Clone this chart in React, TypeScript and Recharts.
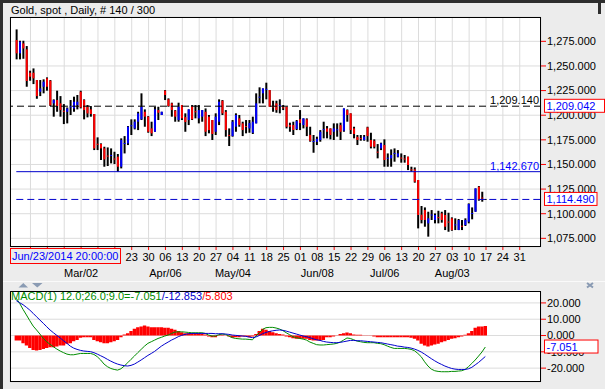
import React from 'react';
import { ComposedChart, Bar, Line, XAxis, YAxis, CartesianGrid, ReferenceLine } from 'recharts';

const FONT = '"Liberation Sans", Arial, sans-serif';
const BG = '#ececec';
const RED = '#ff0000';
const BLUE = '#0000ff';
const DARK_BLUE = '#0000cc';
const GREEN = '#008c00';
const GRID = '#dcdcdc';

// daily bars, oldest first
const opens = [
  1276.3, 1262.8, 1272.9, 1266.8, 1243.1, 1243.1, 1235.7, 1223.8, 1228.9, 1237.4,
  1235.0, 1212.0, 1215.4, 1212.0, 1204.5, 1203.5, 1208.0, 1206.9, 1210.3, 1223.8,
  1215.4, 1208.6, 1205.9, 1201.2, 1171.0, 1170.7, 1166.3, 1159.0, 1158.8, 1156.0,
  1157.9, 1147.7, 1171.0, 1171.4, 1189.0, 1186.6, 1193.4, 1195.8, 1203.5, 1198.5,
  1186.6, 1183.2, 1205.2, 1200.2, 1224.9, 1216.1, 1212.0, 1204.6, 1195.1, 1210.3,
  1198.0, 1195.1, 1208.6, 1204.0, 1196.8, 1198.5, 1203.5, 1198.5, 1195.1, 1183.2,
  1193.4, 1214.7, 1203.5, 1180.0, 1178.8, 1188.3, 1196.8, 1191.7, 1189.0, 1186.6,
  1182.2, 1191.7, 1218.0, 1222.2, 1226.0, 1225.5, 1209.0, 1212.0, 1209.5, 1208.0,
  1208.6, 1190.0, 1190.0, 1186.0, 1196.0, 1190.0, 1195.8, 1180.0, 1173.0, 1173.0,
  1174.8, 1185.0, 1186.6, 1186.6, 1183.2, 1185.0, 1190.0, 1184.3, 1205.2, 1201.9,
  1186.6, 1178.0, 1176.8, 1174.8, 1187.6, 1174.8, 1174.1, 1163.0, 1166.3, 1169.7,
  1156.0, 1156.2, 1161.0, 1157.9, 1157.0, 1156.0, 1157.9, 1145.0, 1145.0, 1134.2,
  1099.0, 1103.7, 1090.2, 1098.5, 1093.6, 1096.5, 1100.3, 1098.7, 1092.0, 1095.3,
  1088.5, 1083.4, 1087.8, 1088.5, 1091.9, 1100.0, 1102.0, 1127.4, 1116.4, 1114.49,
];
const highs = [
  1287.1, 1275.6, 1275.6, 1270.2, 1245.2, 1247.5, 1235.7, 1235.7, 1236.4, 1238.4,
  1235.7, 1216.1, 1224.9, 1219.4, 1211.3, 1207.9, 1215.4, 1218.8, 1220.5, 1224.9,
  1216.1, 1210.3, 1209.3, 1201.2, 1177.5, 1171.4, 1168.0, 1167.3, 1166.3, 1162.9,
  1160.6, 1176.5, 1178.8, 1189.0, 1195.8, 1195.8, 1203.5, 1222.2, 1205.9, 1199.1,
  1193.4, 1208.6, 1208.6, 1203.5, 1225.5, 1217.1, 1212.7, 1205.2, 1212.7, 1210.3,
  1201.9, 1206.0, 1210.3, 1210.3, 1210.3, 1205.2, 1206.9, 1200.2, 1195.1, 1201.9,
  1216.1, 1215.4, 1205.2, 1186.6, 1195.1, 1201.9, 1200.2, 1193.4, 1195.1, 1195.1,
  1198.5, 1222.2, 1228.3, 1227.2, 1233.0, 1225.5, 1214.7, 1214.7, 1216.1, 1210.3,
  1208.6, 1192.4, 1193.4, 1195.1, 1205.2, 1196.8, 1196.8, 1188.3, 1179.9, 1178.2,
  1184.9, 1193.4, 1189.0, 1186.6, 1191.7, 1191.7, 1192.4, 1206.9, 1205.9, 1201.9,
  1188.3, 1179.9, 1179.9, 1179.9, 1188.3, 1182.2, 1175.5, 1170.7, 1172.1, 1175.5,
  1161.2, 1165.3, 1166.3, 1164.6, 1161.2, 1159.6, 1157.9, 1147.7, 1147.0, 1134.2,
  1107.8, 1106.4, 1102.0, 1103.7, 1100.3, 1103.0, 1102.0, 1103.7, 1101.0, 1096.3,
  1095.3, 1094.6, 1093.6, 1095.3, 1110.5, 1106.4, 1125.7, 1128.1, 1122.3, 1115.0,
];
const lows = [
  1256.7, 1256.7, 1257.3, 1228.9, 1235.0, 1231.6, 1216.7, 1219.4, 1222.2, 1224.9,
  1209.3, 1198.5, 1203.5, 1198.5, 1191.0, 1191.7, 1200.2, 1203.5, 1205.9, 1206.9,
  1195.8, 1197.8, 1198.5, 1164.6, 1164.6, 1154.5, 1147.7, 1148.4, 1151.1, 1150.4,
  1142.6, 1146.0, 1161.2, 1169.7, 1179.9, 1185.6, 1184.9, 1195.1, 1188.3, 1182.2,
  1178.8, 1183.2, 1195.1, 1200.2, 1215.4, 1208.6, 1198.5, 1193.4, 1193.4, 1195.1,
  1183.2, 1190.0, 1195.1, 1196.8, 1191.7, 1193.4, 1178.8, 1181.6, 1174.8, 1179.9,
  1190.0, 1200.2, 1178.2, 1168.7, 1178.2, 1183.2, 1188.3, 1178.8, 1181.6, 1182.2,
  1180.9, 1191.7, 1212.0, 1212.0, 1216.1, 1208.6, 1203.5, 1202.5, 1201.9, 1205.2,
  1186.6, 1183.2, 1179.9, 1184.9, 1184.9, 1186.6, 1178.8, 1173.1, 1161.9, 1169.7,
  1173.1, 1176.5, 1176.5, 1175.5, 1174.8, 1178.2, 1174.8, 1183.2, 1193.4, 1180.9,
  1176.5, 1169.7, 1174.1, 1174.1, 1173.1, 1166.3, 1166.3, 1156.2, 1164.6, 1147.7,
  1147.7, 1147.7, 1152.8, 1157.2, 1151.8, 1151.8, 1144.3, 1142.6, 1131.5, 1085.1,
  1090.2, 1086.8, 1076.7, 1093.6, 1090.2, 1090.2, 1090.9, 1083.4, 1081.7, 1082.7,
  1083.4, 1083.4, 1083.4, 1087.5, 1090.2, 1094.3, 1102.0, 1113.2, 1112.2, 1114.0,
];
const closes = [
  1262.8, 1274.6, 1267.8, 1234.7, 1239.1, 1237.4, 1219.4, 1227.2, 1234.0, 1228.9,
  1210.0, 1215.4, 1209.3, 1205.2, 1203.7, 1206.9, 1209.0, 1213.7, 1213.7, 1207.9,
  1205.2, 1201.8, 1201.2, 1166.3, 1170.2, 1166.3, 1155.1, 1158.2, 1159.6, 1155.0,
  1147.7, 1174.8, 1171.8, 1188.3, 1189.8, 1193.4, 1201.9, 1208.6, 1198.5, 1183.2,
  1181.6, 1205.9, 1202.5, 1203.5, 1220.5, 1209.3, 1205.2, 1198.5, 1208.6, 1196.8,
  1193.0, 1205.9, 1195.8, 1203.2, 1205.2, 1205.2, 1183.2, 1184.9, 1180.9, 1198.5,
  1213.7, 1201.9, 1184.9, 1179.2, 1193.4, 1200.2, 1190.0, 1184.9, 1188.2, 1192.0,
  1193.4, 1212.0, 1218.8, 1227.2, 1226.8, 1208.6, 1208.2, 1205.2, 1210.2, 1207.3,
  1188.3, 1188.3, 1185.0, 1194.0, 1192.0, 1196.8, 1188.3, 1174.0, 1173.8, 1176.0,
  1183.2, 1185.8, 1183.2, 1179.9, 1186.6, 1185.7, 1183.2, 1206.9, 1200.2, 1184.9,
  1180.9, 1174.8, 1176.1, 1178.2, 1178.8, 1168.0, 1168.0, 1162.3, 1171.4, 1154.5,
  1156.8, 1159.6, 1161.7, 1161.2, 1156.3, 1155.3, 1149.4, 1144.3, 1132.5, 1098.7,
  1093.6, 1093.6, 1095.3, 1099.2, 1098.7, 1095.8, 1093.6, 1086.8, 1091.3, 1083.4,
  1089.2, 1093.6, 1087.2, 1093.6, 1109.8, 1100.7, 1125.7, 1113.9, 1115.8, 1114.49,
];

// MACD(12,26,9)
const macdValues = [
  22.8, 19.7, 16.0, 12.6, 9.1, 5.8, 3.4, 0.9, -1.8, -3.8,
  -5.4, -6.9, -8.3, -9.5, -10.5, -11.4, -11.8, -11.8, -11.4, -11.0,
  -11.0, -11.0, -11.0, -11.6, -13.0, -15.0, -17.5, -19.1, -20.2, -20.8,
  -21.2, -20.4, -18.7, -16.7, -14.6, -12.6, -10.5, -8.5, -6.5, -4.8,
  -3.8, -2.8, -1.8, -1.1, -0.3, 0.3, 1.3, 2.1, 2.3, 2.3,
  2.1, 1.9, 1.7, 1.7, 1.7, 1.7, 1.3, 0.3, -0.3, -0.3,
  0.5, 0.9, 0.7, -0.3, -1.3, -1.8, -2.0, -2.2, -2.2, -2.4,
  -2.6, -0.3, 1.7, 3.8, 4.8, 5.0, 5.0, 4.6, 4.0, 3.0,
  1.7, 0.5, -0.7, -1.3, -1.8, -2.2, -2.8, -4.0, -4.8, -5.6,
  -5.8, -5.8, -5.6, -5.4, -5.2, -4.8, -4.0, -2.8, -1.5, -1.8,
  -2.6, -3.4, -3.8, -4.2, -4.4, -4.4, -4.4, -4.8, -5.0, -5.6,
  -6.5, -7.3, -7.9, -7.9, -7.9, -7.9, -8.1, -8.5, -9.3, -11.0,
  -13.0, -16.1, -18.7, -20.6, -21.6, -22.0, -22.2, -22.2, -22.2, -22.0,
  -22.0, -21.8, -21.6, -20.8, -19.1, -17.1, -15.0, -12.6, -10.1, -7.051,
];
const signalValues = [
  21.4, 20.1, 18.9, 17.3, 15.6, 13.6, 11.5, 9.5, 7.5, 5.4,
  3.4, 1.7, 0.1, -1.5, -3.2, -4.8, -6.5, -7.7, -8.5, -9.1,
  -9.5, -9.7, -9.9, -10.5, -11.4, -12.4, -13.4, -14.6, -15.7, -16.7,
  -17.5, -18.1, -18.5, -18.7, -18.3, -17.5, -16.3, -15.0, -13.6, -12.2,
  -11.0, -9.7, -8.1, -6.5, -5.2, -4.0, -2.8, -1.8, -0.7, 0.1,
  0.7, 1.1, 1.3, 1.3, 1.3, 1.3, 1.3, 1.3, 1.3, 1.1,
  1.1, 1.1, 0.9, 0.7, 0.3, 0.1, -0.1, -0.3, -0.5, -0.9,
  -1.3, -0.9, 0.0, 1.1, 1.9, 2.5, 2.9, 3.2, 3.4, 3.2,
  2.7, 2.1, 1.5, 0.9, 0.3, -0.3, -0.7, -1.3, -2.0, -2.6,
  -3.0, -3.6, -4.0, -4.2, -4.4, -4.4, -4.2, -3.8, -3.4, -3.0,
  -3.0, -3.2, -3.2, -3.4, -3.6, -3.8, -4.0, -4.2, -4.4, -4.8,
  -5.2, -5.6, -6.0, -6.5, -6.7, -7.1, -7.3, -7.7, -8.3, -9.1,
  -10.1, -11.4, -12.8, -14.2, -15.5, -16.7, -17.7, -18.7, -19.5, -20.2,
  -20.6, -20.8, -20.8, -20.8, -20.4, -19.5, -18.0, -16.5, -14.7, -12.853,
];
const histValues = [
  -3.1, -3.1, -4.7, -6.1, -7.6, -8.8, -9.2, -8.8, -8.2, -7.6,
  -7.2, -7.2, -6.7, -6.1, -6.1, -5.1, -4.7, -3.5, -2.7, -1.4,
  -1.0, -1.0, -1.0, -2.7, -3.5, -4.1, -4.7, -4.7, -4.1, -3.5,
  -2.7, -1.0, 0.6, 1.4, 2.7, 4.1, 5.1, 5.5, 6.1, 5.5,
  5.1, 5.1, 5.1, 5.1, 4.7, 4.7, 4.1, 3.5, 2.7, 2.0,
  1.4, 1.4, 1.4, 1.4, 1.4, 1.0, 0.6, -0.6, -1.0, -1.0,
  -0.3, 0.4, 0.2, -0.6, -1.4, -1.0, -1.0, -0.6, -0.6, -1.0,
  -0.6, 1.0, 2.7, 4.1, 3.5, 2.7, 2.0, 1.4, 1.0, 0.6,
  -0.6, -1.0, -1.6, -2.0, -2.0, -2.0, -2.0, -2.7, -3.1, -3.1,
  -3.1, -2.7, -1.0, -1.0, -0.6, 0.2, 1.0, 1.4, 1.8, 1.4,
  0.6, 0.4, 0.4, 0.2, -0.2, -0.2, -0.6, -1.0, -1.0, -1.0,
  -1.0, -1.0, -1.0, -1.0, -1.0, -1.0, -1.0, -1.4, -2.0, -3.1,
  -5.1, -6.1, -6.7, -6.1, -5.5, -5.1, -4.1, -3.5, -2.7, -2.0,
  -1.6, -1.0, -0.6, 0.4, 1.4, 2.7, 4.7, 5.5, 5.5, 5.803,
];

// week grid (position in bar units) and its labels
const weekTicks = [
  4.2, 9.2, 14.2, 19.2, 24.2, 29.2, 34.2, 39.2, 44.2, 49.2,
  54.2, 59.2, 64.2, 69.2, 74.2, 79.2, 84.2, 89.2, 94.2, 99.2,
  104.2, 109.2, 114.2, 119.2, 124.2, 129.2, 134.2, 139.2, 144.2, 149.2,
];
const weekDays = [
  '09', '16', '23', '02', '09', '16', '23', '30', '06', '13',
  '20', '27', '04', '11', '18', '25', '01', '08', '15', '22',
  '29', '06', '13', '20', '27', '03', '10', '17', '24', '31',
];
const monthLabels = [
  '', '', '', 'Mar/02', '', '', '', '', 'Apr/06', '',
  '', '', 'May/04', '', '', '', '', 'Jun/08', '', '',
  '', 'Jul/06', '', '', '', 'Aug/03', '', '', '', '',
];
// the cursor date box sits over the first six day labels
const ticksUnderCursorBox = 6;

const priceTicks = [1075, 1100, 1125, 1150, 1175, 1200, 1225, 1250, 1275];
const macdTicks = [-20, -10, 0, 10, 20];

const resistanceLevel = 1209.14;
const supportLevel = 1142.67;
const markerPrice = 1209.042;
const lastPrice = closes[closes.length - 1];
const cursorDate = 'Jun/23/2014 20:00:00';

const xDomain: [number, number] = [-1.87, 155.5];
const priceDomain: [number, number] = [1066.2, 1299.7];
const macdDomain: [number, number] = [-28.5, 27.0];

const priceData = opens.map((open, i) => ({ idx: i, open, high: highs[i], low: lows[i], close: closes[i] }));
const macdData = macdValues.map((macd, i) => ({ idx: i, macd, signal: signalValues[i], hist: histValues[i] }));

const fmt3 = (v: number) =>
  v.toLocaleString('en-US', { minimumFractionDigits: 3, maximumFractionDigits: 3 });

const PRICE_MARGIN = { top: 17, right: 0, bottom: 0, left: 10 };
const MACD_MARGIN = { top: 9.5, right: 0, bottom: 7, left: 10 };

const OhlcBar = (props: any) => {
  const { x, y, width, height, payload } = props;
  if (x == null || y == null || !payload) return null;
  const top = height < 0 ? y + height : y;
  const h = Math.abs(height);
  const cx = x + width / 2;
  const span = payload.high - payload.low || 1;
  const py = (v: number) => top + ((payload.high - v) / span) * h;
  const up = payload.close > payload.open;
  const y1 = py(Math.max(payload.open, payload.close));
  const y2 = Math.max(py(Math.min(payload.open, payload.close)), y1 + 1);
  return (
    <g>
      <line x1={cx} x2={cx} y1={top} y2={Math.max(top + h, top + 1)} stroke="#000" strokeWidth={2} />
      {payload.open !== payload.close && (
        <line x1={cx} x2={cx} y1={y1} y2={y2} stroke={up ? BLUE : RED} strokeWidth={2} />
      )}
    </g>
  );
};

const WeekTick = (props: any) => {
  const { x, y, payload } = props;
  const k = weekTicks.indexOf(payload.value);
  return (
    <g>
      {k >= ticksUnderCursorBox ? (
        <text x={x} y={y + 8.5} textAnchor="middle" fontSize={11} fontFamily={FONT} fill="#000">
          {weekDays[k]}
        </text>
      ) : null}
      {monthLabels[k] ? (
        <text x={x} y={y + 24.5} textAnchor="middle" fontSize={11} fontFamily={FONT} fill="#000">
          {monthLabels[k]}
        </text>
      ) : null}
    </g>
  );
};

const LevelLabel = (props: any) => {
  const { viewBox, text, color } = props;
  if (!viewBox) return null;
  return (
    <text x={viewBox.x + viewBox.width - 2} y={viewBox.y - 2} textAnchor="end" fontSize={11} fontFamily={FONT} fill={color}>
      {text}
    </text>
  );
};

const ValueBox = (props: any) => {
  const { viewBox, text, boxWidth } = props;
  if (!viewBox) return null;
  const bx = viewBox.x + viewBox.width + 3.5;
  return (
    <g>
      <rect x={bx} y={viewBox.y - 7} width={boxWidth} height={13} fill="#fff" stroke={RED} />
      <text x={bx + 2} y={viewBox.y + 3.5} fontSize={11} fontFamily={FONT} fill={BLUE}>
        {text}
      </text>
    </g>
  );
};

// transparent layer with the same axes, so the value boxes sit above the tick labels
const BoxLayer = ({ height, margin, xHeight, domain, boxes }: any) => (
  <ComposedChart width={605} height={height} data={priceData} margin={margin}>
    <XAxis dataKey="idx" type="number" domain={xDomain} allowDataOverflow height={xHeight} axisLine={false} tickLine={false} tick={false} />
    <YAxis orientation="right" width={64} domain={domain} allowDataOverflow axisLine={false} tickLine={false} tick={false} />
    {boxes.map((b: any) => (
      <ReferenceLine key={b.text} y={b.value} stroke="none" label={<ValueBox text={b.text} boxWidth={b.width} />} />
    ))}
  </ComposedChart>
);

export default function App() {
  const last = macdValues.length - 1;
  return (
    <div style={{ position: 'absolute', left: 0, top: 0, width: 605, height: 389, background: BG, overflow: 'hidden', fontFamily: FONT }}>
      <div style={{ position: 'absolute', left: 0, top: 0, width: 605, height: 3, background: '#2e2e2e' }} />
      <div style={{ position: 'absolute', left: 0, top: 0, width: 3, height: 389, background: '#2e2e2e' }} />
      <div style={{ position: 'absolute', left: 598, top: 0, width: 3, height: 14, background: '#2e2e2e' }} />
      <div style={{ position: 'absolute', left: 11, top: 4, fontSize: 11, lineHeight: '13px', color: '#000', whiteSpace: 'nowrap' }}>
        Gold, spot , Daily, # {opens.length} / 300
      </div>

      {/* price panel */}
      <div style={{ position: 'absolute', left: 0, top: 0 }}>
        <ComposedChart width={605} height={280} data={priceData} margin={PRICE_MARGIN}>
          <CartesianGrid stroke={GRID} fill="#fff" fillOpacity={1} />
          <XAxis
            dataKey="idx"
            type="number"
            domain={xDomain}
            ticks={weekTicks}
            interval={0}
            allowDataOverflow
            height={33}
            axisLine={false}
            tickLine={{ stroke: RED }}
            tickSize={3}
            tickMargin={2}
            tick={<WeekTick />}
          />
          <YAxis
            orientation="right"
            width={64}
            domain={priceDomain}
            ticks={priceTicks}
            interval={0}
            allowDataOverflow
            axisLine={false}
            tickLine={{ stroke: RED }}
            tickSize={5}
            tickMargin={1}
            tickFormatter={fmt3}
            tick={{ fontSize: 11, fill: '#000', fontFamily: FONT }}
          />
          <Bar
            dataKey={(d: any) => [d.low, d.high]}
            barSize={2}
            shape={(p: any) => <OhlcBar {...p} />}
            isAnimationActive={false}
          />
          <ReferenceLine
            y={resistanceLevel}
            stroke="#000"
            strokeDasharray="7 4"
            label={<LevelLabel text={fmt3(resistanceLevel)} color="#000" />}
          />
          <ReferenceLine
            segment={[{ x: 0, y: supportLevel }, { x: xDomain[1], y: supportLevel }]}
            stroke={DARK_BLUE}
            label={<LevelLabel text={fmt3(supportLevel)} color={BLUE} />}
          />
          <ReferenceLine
            segment={[{ x: 0, y: lastPrice }, { x: xDomain[1], y: lastPrice }]}
            stroke={DARK_BLUE}
            strokeDasharray="7 4"
          />
        </ComposedChart>
      </div>
      <div style={{ position: 'absolute', left: 0, top: 0, pointerEvents: 'none' }}>
        <BoxLayer
          height={280}
          margin={PRICE_MARGIN}
          xHeight={33}
          domain={priceDomain}
          boxes={[
            { value: markerPrice, text: fmt3(markerPrice), width: 60 },
            { value: lastPrice, text: fmt3(lastPrice), width: 52.5 },
          ]}
        />
      </div>
      <div style={{ position: 'absolute', left: 10, top: 17, width: 531, height: 230, border: '1px solid #000', boxSizing: 'border-box' }} />
      <div
        style={{
          position: 'absolute', left: 10, top: 248, width: 111, height: 16, border: `1px solid ${RED}`, boxSizing: 'border-box',
          background: BG, color: BLUE, fontSize: 11, lineHeight: '14px', paddingLeft: 1, whiteSpace: 'nowrap',
        }}
      >
        {cursorDate}
      </div>

      {/* splitter */}
      <div style={{ position: 'absolute', left: 3, top: 281, width: 602, height: 1, background: '#fafafa' }} />
      <svg style={{ position: 'absolute', left: 0, top: 280 }} width={605} height={10}>
        <polygon points="18.5,7.5 23.3,3 28,7.5" fill="#8a9bb3" />
        <polygon points="32,3 42.5,3 37.3,7.5" fill="#8a9bb3" />
        <line x1={587} y1={3} x2={593} y2={7.5} stroke="#8a9bb3" strokeWidth={2} />
        <line x1={593} y1={3} x2={587} y2={7.5} stroke="#8a9bb3" strokeWidth={2} />
      </svg>

      {/* MACD panel */}
      <div style={{ position: 'absolute', left: 0, top: 282 }}>
        <ComposedChart width={605} height={107} data={macdData} margin={MACD_MARGIN}>
          <CartesianGrid stroke={GRID} fill="#fff" fillOpacity={1} />
          <XAxis
            dataKey="idx"
            type="number"
            domain={xDomain}
            ticks={weekTicks}
            interval={0}
            allowDataOverflow
            height={0}
            axisLine={false}
            tickLine={false}
            tick={false}
          />
          <YAxis
            orientation="right"
            width={64}
            domain={macdDomain}
            ticks={macdTicks}
            interval={0}
            allowDataOverflow
            axisLine={false}
            tickLine={{ stroke: RED }}
            tickSize={5}
            tickMargin={1}
            tickFormatter={fmt3}
            tick={{ fontSize: 11, fill: '#000', fontFamily: FONT }}
          />
          <Bar dataKey="hist" fill={RED} barSize={3.37} isAnimationActive={false} />
          <Line type="linear" dataKey="macd" stroke={GREEN} strokeWidth={1} dot={false} isAnimationActive={false} />
          <Line type="linear" dataKey="signal" stroke={DARK_BLUE} strokeWidth={1} dot={false} isAnimationActive={false} />
        </ComposedChart>
      </div>
      <div style={{ position: 'absolute', left: 0, top: 282, pointerEvents: 'none' }}>
        <BoxLayer
          height={107}
          margin={MACD_MARGIN}
          xHeight={0}
          domain={macdDomain}
          boxes={[{ value: macdValues[last], text: fmt3(macdValues[last]), width: 53.5 }]}
        />
      </div>
      <div style={{ position: 'absolute', left: 10, top: 291, width: 531, height: 91, border: '1px solid #000', boxSizing: 'border-box' }} />
      <div style={{ position: 'absolute', left: 11, top: 290, fontSize: 11, lineHeight: '13px', whiteSpace: 'nowrap' }}>
        <span style={{ color: GREEN }}>MACD(1) 12.0;26.0;9.0={fmt3(macdValues[last])}</span>
        <span style={{ color: DARK_BLUE }}>/{fmt3(signalValues[last])}</span>
        <span style={{ color: RED }}>/{fmt3(histValues[last])}</span>
      </div>
    </div>
  );
}
